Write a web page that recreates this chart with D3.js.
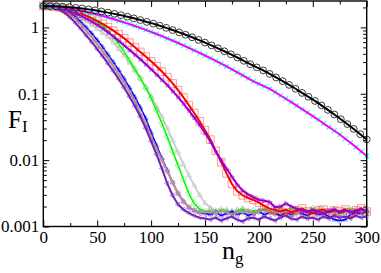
<!DOCTYPE html>
<html><head><meta charset="utf-8">
<script src="https://cdn.jsdelivr.net/npm/d3@7"></script>
<style>html,body{margin:0;padding:0;background:#fff}</style>
</head><body>
<svg id="chart" width="381" height="273"></svg>
<script>
// ---- data ----
const nStep5 = [0,5,10,15,20,25,30,35,40,45,50,55,60,65,70,75,80,85,90,95,100,105,110,115,120,125,130,135,140,145,150,155,160,165,170,175,180,185,190,195,200,205,210,215,220,225,230,235,240,245,250,255,260,265,270,275,280,285,290,295,300];
const nStep6 = [0,6,12,18,24,30,36,42,48,54,60,66,72,78,84,90,96,102,108,114,120,126,132,138,144,150,156,162,168,174,180,186,192,198,204,210,216,222,228,234,240,246,252,258,264,270,276,282,288,294,300];

const blackCircles = [2.10,2.09,2.08,2.05,2.02,1.97,1.93,1.87,1.81,1.74,1.67,1.60,1.53,1.45,1.37,1.29,1.21,1.14,1.06,0.985,0.912,0.842,0.774,0.710,0.648,0.590,0.536,0.484,0.437,0.393,0.352,0.314,0.279,0.250,0.225,0.199,0.176,0.155,0.136,0.119,0.103,0.090,0.078,0.0668,0.0572,0.0488,0.0414,0.0349,0.0295,0.0246,0.0205];
const magentaCross = [2.10,2.08,2.05,2.01,1.96,1.90,1.84,1.78,1.71,1.63,1.56,1.49,1.41,1.34,1.26,1.19,1.12,1.05,0.984,0.918,0.855,0.796,0.738,0.682,0.631,0.582,0.536,0.492,0.451,0.412,0.377,0.344,0.313,0.284,0.258,0.233,0.210,0.190,0.171,0.154,0.141,0.129,0.1186,0.106,0.0942,0.0841,0.0748,0.0662,0.0586,0.0521,0.0460,0.0406,0.0356,0.0315,0.0277,0.0243,0.0210,0.0183,0.0157,0.0135,0.0115];
const redSquares = [2.10,2.09,2.05,2.00,1.92,1.83,1.73,1.61,1.50,1.37,1.25,1.13,1.01,0.893,0.785,0.684,0.589,0.504,0.427,0.363,0.309,0.260,0.216,0.178,0.143,0.1135,0.0881,0.0676,0.0513,0.0385,0.0282,0.0204,0.0138,0.00933,0.00631,0.00437,0.00339,0.00295,0.00269,0.00251,0.00229,0.00204,0.00186,0.00178,0.00168,0.00180,0.00163,0.00174,0.00187,0.00168,0.00157,0.00174,0.00180,0.00163,0.00174,0.00168,0.00180,0.00163,0.00174,0.00187,0.00168];
const violetTriangles = [2.10,2.08,2.03,1.95,1.85,1.74,1.62,1.49,1.36,1.22,1.09,0.962,0.841,0.729,0.627,0.535,0.455,0.389,0.331,0.279,0.234,0.195,0.162,0.135,0.1096,0.0891,0.0708,0.0562,0.0437,0.0339,0.0257,0.0191,0.0135,0.0100,0.00741,0.00562,0.00427,0.00347,0.00302,0.00275,0.00251,0.00245,0.00234,0.00195,0.00200,0.00224,0.00200,0.00186,0.00174,0.00166,0.00178,0.00166,0.00158,0.00170,0.00182,0.00162,0.00174,0.00166,0.00170,0.00182,0.00170];
const greenDiamonds = [2.10,2.09,2.06,2.01,1.95,1.86,1.77,1.65,1.51,1.36,1.20,1.05,0.881,0.715,0.560,0.432,0.321,0.235,0.1717,0.1234,0.0856,0.0564,0.0359,0.0224,0.01355,0.00833,0.00512,0.00314,0.00222,0.00183,0.00168,0.00174,0.00163,0.00180,0.00168,0.00157,0.00174,0.00180,0.00163,0.00174,0.00168,0.00187,0.00168,0.00157,0.00174,0.00163,0.00180,0.00168,0.00174,0.00163,0.00187,0.00168,0.00180,0.00163,0.00174,0.00157,0.00168,0.00180,0.00168,0.00174,0.00163];
const greyTriangles = [2.10,2.08,2.03,1.95,1.83,1.71,1.56,1.38,1.23,1.085,0.944,0.827,0.722,0.590,0.473,0.376,0.294,0.2245,0.1694,0.1256,0.0918,0.0648,0.0452,0.0302,0.0199,0.01309,0.00862,0.00588,0.00416,0.00298,0.00225,0.00193,0.00174,0.00168,0.00180,0.00163,0.00174,0.00187,0.00168,0.00157,0.00174,0.00180,0.00163,0.00174,0.00187,0.00168,0.00157,0.00180,0.00168,0.00174,0.00163,0.00187,0.00174,0.00168,0.00180,0.00163,0.00174,0.00168,0.00180,0.00163,0.00174];
const blueTriangles = [2.10,2.09,2.04,1.96,1.83,1.65,1.43,1.20,0.995,0.807,0.644,0.505,0.389,0.300,0.227,0.1688,0.1234,0.0887,0.0626,0.0427,0.02625,0.0167,0.01063,0.00700,0.00461,0.00314,0.00238,0.00193,0.00174,0.00163,0.00157,0.00151,0.00163,0.00146,0.00157,0.00168,0.00151,0.00163,0.00146,0.00157,0.00168,0.00151,0.00163,0.00157,0.00146,0.00163,0.00151,0.00168,0.00157,0.00146,0.00163,0.00151,0.00157,0.00141,0.00127,0.00123,0.00127,0.00151,0.00163,0.00157,0.00168];
const brownTriangles = [2.10,2.08,2.03,1.93,1.77,1.56,1.34,1.10,0.896,0.715,0.560,0.439,0.338,0.261,0.197,0.1468,0.1074,0.0772,0.0508,0.0347,0.0228,0.01505,0.01008,0.00676,0.00461,0.00314,0.00238,0.00197,0.00177,0.00165,0.00163,0.00168,0.00157,0.00174,0.00163,0.00151,0.00168,0.00163,0.00174,0.00157,0.00168,0.00180,0.00163,0.00157,0.00174,0.00163,0.00168,0.00157,0.00174,0.00163,0.00180,0.00168,0.00157,0.00174,0.00163,0.00168,0.00180,0.00163,0.00174,0.00168,0.00174];
const indigoTriangles = [2.10,2.06,1.99,1.86,1.65,1.41,1.16,0.944,0.753,0.601,0.471,0.369,0.284,0.219,0.166,0.1234,0.0902,0.0648,0.0450,0.0302,0.0192,0.01222,0.00750,0.00445,0.00293,0.00215,0.00180,0.00160,0.00146,0.00136,0.00132,0.00127,0.00136,0.00123,0.00132,0.00141,0.00127,0.00119,0.00132,0.00136,0.00127,0.00141,0.00132,0.00123,0.00136,0.00146,0.00132,0.00127,0.00141,0.00132,0.00136,0.00127,0.00141,0.00132,0.00146,0.00136,0.00141,0.00132,0.00146,0.00136,0.00141];

const xTickValues = [0,50,100,150,200,250,300];
const xTickLabels = ["0","50","100","150","200","250","300"];
const xMinorValues = [25,75,125,175,225,275];
const yTickValues = [0.001,0.01,0.1,1];
const yTickLabels = ["0.001","0.01","0.1","1"];
const yMinorValues = [0.002,0.003,0.004,0.005,0.006,0.007,0.008,0.009,0.02,0.03,0.04,0.05,0.06,0.07,0.08,0.09,0.2,0.3,0.4,0.5,0.6,0.7,0.8,0.9,2];

// ---- drawing ----
const W = 381, H = 273;
const L = 43.3, R = 366.7, T = 1, B = 226.5;
const FONT = "'Liberation Serif','Times New Roman',serif";
const svg = d3.select("#chart");
svg.append("rect").attr("width", W).attr("height", H).attr("fill", "#fff");

const x = d3.scaleLinear().domain([0, 300]).range([L, R]);
const y = d3.scaleLog().domain([0.001, 2.5]).range([B, T]);

function markerPath(type, s) {
  const h = s * 0.87, q = s * 0.5;
  switch (type) {
    case "circle": return `M${s},0A${s},${s} 0 1,1 ${-s},0A${s},${s} 0 1,1 ${s},0Z`;
    case "square": return `M${-s},${-s}H${s}V${s}H${-s}Z`;
    case "diamond": return `M0,${-s}L${s},0L0,${s}L${-s},0Z`;
    case "triUp": return `M0,${-s}L${h},${q}L${-h},${q}Z`;
    case "triDown": return `M0,${s}L${h},${-q}L${-h},${-q}Z`;
    case "triLeft": return `M${-s},0L${q},${-h}L${q},${h}Z`;
    case "triRight": return `M${s},0L${-q},${-h}L${-q},${h}Z`;
    case "x": return `M${-s},${-s}L${s},${s}M${-s},${s}L${s},${-s}`;
  }
}

const series = [
  {n: nStep5, v: greyTriangles,   line: "#c8c8c8", lw: 1.6, mk: "triUp",    mc: "#c0c0c0", ms: 3.0, mo: 0.8, mw: 0.8},
  {n: nStep5, v: greenDiamonds,   line: "#00ff00", lw: 1.6, mk: "diamond",  mc: "#00e000", ms: 3.2, mo: 0.55, mw: 0.8},
  {n: nStep5, v: blueTriangles,   line: "#0000ff", lw: 1.6, mk: "triUp",    mc: "#0000ff", ms: 2.8, mo: 0.55, mw: 0.8},
  {n: nStep5, v: brownTriangles,  line: "#bc8f8f", lw: 2.0, mk: "triDown",  mc: "#bc8f8f", ms: 3.0, mo: 0.7, mw: 0.8},
  {n: nStep5, v: indigoTriangles, line: "#7221bc", lw: 2.0, mk: "triLeft",  mc: "#7221bc", ms: 2.8, mo: 0.55, mw: 0.8},
  {n: nStep5, v: redSquares,      line: "#ff0000", lw: 2.0, mk: "square",   mc: "#ff0000", ms: 3.8, mo: 0.5, mw: 0.8},
  {n: nStep5, v: violetTriangles, line: "#9400d3", lw: 2.0, mk: "triRight", mc: "#9400d3", ms: 2.6, mo: 0.55, mw: 0.8},
  {n: nStep5, v: magentaCross,    line: "#ff00ff", lw: 2.0, mk: "x",        mc: "#00ffff", ms: 2.3, mo: 1.0, mw: 1.1},
  {n: nStep6, v: blackCircles,    line: "#000000", lw: 2.0, mk: "circle",   mc: "#000000", ms: 3.4, mo: 0.85, mw: 0.9}
];

const plot = svg.append("g");
series.forEach(s => {
  const pts = s.v.map((val, i) => [s.n[i], val]);
  const g = plot.append("g");
  g.selectAll("path.m").data(pts).enter().append("path")
    .attr("class", "m")
    .attr("d", markerPath(s.mk, s.ms))
    .attr("transform", d => `translate(${x(d[0])},${y(d[1])})`)
    .attr("fill", "none").attr("stroke", s.mc)
    .attr("stroke-width", s.mw).attr("stroke-opacity", s.mo);
  g.append("path").datum(pts)
    .attr("d", d3.line().x(d => x(d[0])).y(d => y(d[1])))
    .attr("fill", "none").attr("stroke", s.line)
    .attr("stroke-width", s.lw).attr("stroke-linejoin", "round");
});

// ---- axes ----
function styleAxis(g) {
  g.select(".domain").remove();
  g.selectAll(".tick line").attr("stroke", "#000").attr("stroke-width", 1);
  g.selectAll(".tick text").attr("font-family", FONT).attr("font-size", 17).attr("fill", "#000");
}
const MAJ = 6, MIN = 3.5;
svg.append("g").attr("transform", `translate(0,${B})`)
  .call(d3.axisBottom(x).tickValues(xTickValues).tickFormat((d, i) => xTickLabels[i]).tickSize(-MAJ).tickPadding(4.5))
  .call(styleAxis);
svg.append("g").attr("transform", `translate(0,${B})`)
  .call(d3.axisBottom(x).tickValues(xMinorValues).tickFormat("").tickSize(-MIN))
  .call(styleAxis);
svg.append("g").attr("transform", `translate(0,${T})`)
  .call(d3.axisTop(x).tickValues(xTickValues).tickFormat("").tickSize(-MAJ))
  .call(styleAxis);
svg.append("g").attr("transform", `translate(0,${T})`)
  .call(d3.axisTop(x).tickValues(xMinorValues).tickFormat("").tickSize(-MIN))
  .call(styleAxis);
svg.append("g").attr("transform", `translate(${L},0)`)
  .call(d3.axisLeft(y).tickValues(yTickValues).tickFormat((d, i) => yTickLabels[i]).tickSize(-MAJ).tickPadding(4))
  .call(styleAxis);
svg.append("g").attr("transform", `translate(${L},0)`)
  .call(d3.axisLeft(y).tickValues(yMinorValues).tickFormat("").tickSize(-MIN))
  .call(styleAxis);
svg.append("g").attr("transform", `translate(${R},0)`)
  .call(d3.axisRight(y).tickValues(yTickValues).tickFormat("").tickSize(-MAJ))
  .call(styleAxis);
svg.append("g").attr("transform", `translate(${R},0)`)
  .call(d3.axisRight(y).tickValues(yMinorValues).tickFormat("").tickSize(-MIN))
  .call(styleAxis);

svg.append("rect").attr("x", L).attr("y", T).attr("width", R - L).attr("height", B - T)
  .attr("fill", "none").attr("stroke", "#000").attr("stroke-width", 1.4);

// ---- titles ----
const ft = svg.append("text").attr("x", 8).attr("y", 128)
  .attr("font-family", FONT).attr("font-size", 25).attr("fill", "#000");
ft.append("tspan").text("F");
ft.append("tspan").attr("font-size", 17).attr("dy", 4).text("I");

const nt = svg.append("text").attr("x", 222).attr("y", 258.5)
  .attr("font-family", FONT).attr("font-size", 26).attr("fill", "#000");
nt.append("tspan").text("n");
nt.append("tspan").attr("font-size", 17).attr("dy", 5).text("g");
</script>
</body></html>
